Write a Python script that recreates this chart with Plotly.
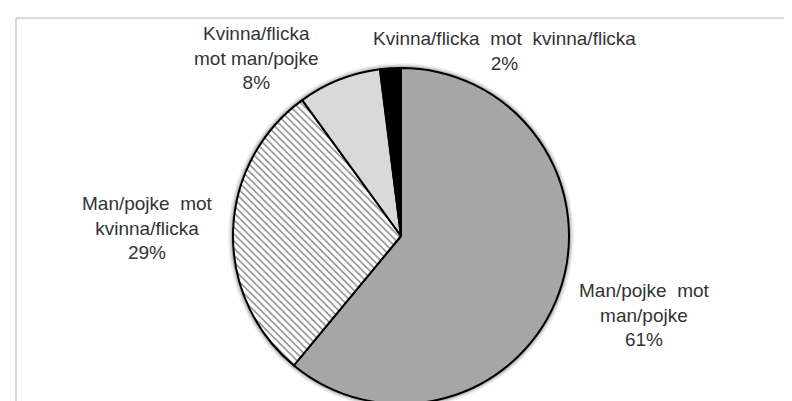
import plotly.graph_objects as go

# slices, clockwise from 12 o'clock
labels = ["Man/pojke  mot<br>man/pojke",
          "Man/pojke  mot<br>kvinna/flicka",
          "Kvinna/flicka<br>mot man/pojke",
          "Kvinna/flicka  mot  kvinna/flicka"]
values = [61, 29, 8, 2]

colors = ["#a6a6a6", "#ffffff", "#d9d9d9", "#000000"]
patterns = ["", "\\", "", ""]

# label centres in pixels (x, y from top)
label_pos = [(636, 307), (139, 220), (248, 50), (497, 43)]

W, H = 792, 401
cx, cy, r = 393, 228, 168


def dom(rad):
    return dict(x=[(cx - rad) / W, (cx + rad) / W],
                y=[(H - cy - rad) / H, (H - cy + rad) / H])


fig = go.Figure()

# soft shadow round the pie
for extra, alpha in [(5, 0.06), (3.5, 0.10), (2, 0.16)]:
    fig.add_trace(go.Pie(values=[1], marker=dict(colors=[f"rgba(0,0,0,{alpha})"], line=dict(width=0)),
                         textinfo="none", hoverinfo="skip", showlegend=False,
                         domain=dom(r + extra)))

fig.add_trace(go.Pie(
    labels=labels,
    values=values,
    sort=False,
    direction="clockwise",
    rotation=0,
    textinfo="none",
    hoverinfo="label+percent",
    marker=dict(colors=colors,
                line=dict(color="#000000", width=2),
                pattern=dict(shape=patterns, fgcolor="#8c8c8c", bgcolor="#ffffff",
                             size=5, solidity=0.3)),
    domain=dom(r),
    showlegend=False,
))

for lab, v, (px_, py_) in zip(labels, values, label_pos):
    txt = lab.replace("  ", "\u00a0 ") + "<br>" + f"{v}%"
    fig.add_annotation(x=px_ / W, y=1 - py_ / H, xref="paper", yref="paper",
                       text=txt, showarrow=False, xanchor="center", yanchor="middle",
                       align="center",
                       font=dict(family="Liberation Sans, Arial", size=19, color="#333333"))

# chart frame (left and top edges visible)
fig.add_shape(type="line", xref="paper", yref="paper",
              x0=8 / W, x1=8 / W, y0=0, y1=1 - 10 / H,
              line=dict(color="#d9d9d9", width=2))
fig.add_shape(type="line", xref="paper", yref="paper",
              x0=8 / W, x1=1, y0=1 - 10 / H, y1=1 - 10 / H,
              line=dict(color="#d9d9d9", width=2))

fig.update_layout(width=W, height=H, margin=dict(l=0, r=0, t=0, b=0),
                  paper_bgcolor="#ffffff", plot_bgcolor="#ffffff")

fig.write_html("out.html")
